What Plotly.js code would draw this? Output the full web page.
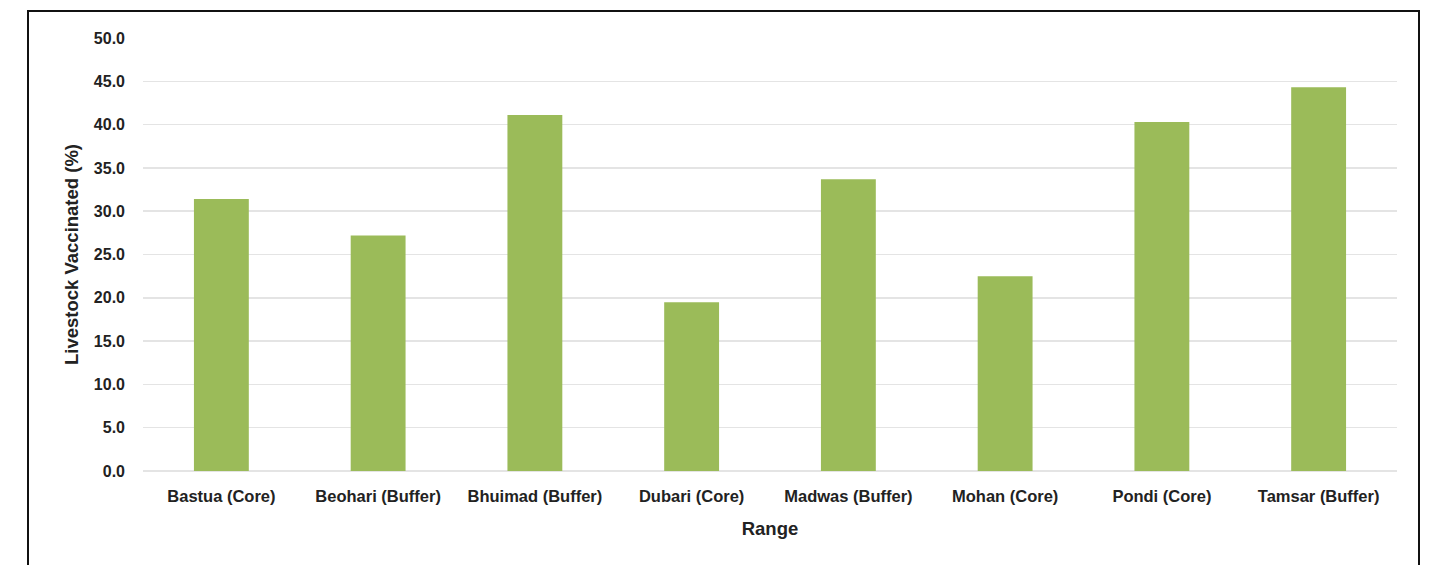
<!DOCTYPE html>
<html>
<head>
<meta charset="utf-8">
<script src="https://cdn.plot.ly/plotly-3.0.1.min.js"></script>
<style>
  html, body { margin: 0; padding: 0; background: #fff; }
  #wrap { position: relative; width: 1430px; height: 565px; overflow: hidden; }
  #chart { position: absolute; left: 0; top: 0; width: 1430px; height: 565px; }
  #frame { position: absolute; left: 27px; top: 10px; width: 1393px; height: 600px;
           border: 2.5px solid #111; box-sizing: border-box; pointer-events: none; }
</style>
</head>
<body>
<div id="wrap">
  <div id="chart"></div>
  <div id="frame"></div>
</div>
<script>
const categories = ["Bastua (Core)", "Beohari (Buffer)", "Bhuimad (Buffer)", "Dubari (Core)",
                    "Madwas (Buffer)", "Mohan (Core)", "Pondi (Core)", "Tamsar (Buffer)"];
const vaccinated = [31.4, 27.2, 41.1, 19.5, 33.7, 22.5, 40.3, 44.3];
const yTickValues = [0, 5, 10, 15, 20, 25, 30, 35, 40, 45, 50];

const fontFam = '"Liberation Sans", Arial, sans-serif';

const trace = {
  type: 'bar',
  x: categories,
  y: vaccinated,
  marker: { color: '#9BBB59' },
  width: 0.35,
  hoverinfo: 'x+y'
};

const layout = {
  width: 1430,
  height: 565,
  margin: { l: 143, r: 33, t: 38, b: 94 },
  paper_bgcolor: 'rgba(0,0,0,0)',
  plot_bgcolor: '#fff',
  showlegend: false,
  xaxis: {
    type: 'category',
    tickfont: { family: fontFam, size: 16.5, color: '#222', weight: 'bold' },
    ticks: '',
    ticklabelstandoff: 13,
    showline: false,
    showgrid: false,
    title: { text: 'Range', font: { family: fontFam, size: 18.5, color: '#222', weight: 'bold' }, standoff: 18 }
  },
  yaxis: {
    range: [0, 50],
    tickvals: yTickValues,
    tickformat: '.1f',
    tickfont: { family: fontFam, size: 16, color: '#222', weight: 'bold' },
    ticks: '',
    ticklabelstandoff: 17,
    showgrid: true,
    gridcolor: '#e4e4e4',
    gridwidth: 1.5,
    zeroline: true,
    zerolinecolor: '#e4e4e4',
    zerolinewidth: 1.5,
    showline: false,
    title: { text: 'Livestock Vaccinated (%)', font: { family: fontFam, size: 18.5, color: '#222', weight: 'bold' }, standoff: 10 }
  }
};

Plotly.newPlot('chart', [trace], layout, { displayModeBar: false, staticPlot: true });
</script>
</body>
</html>
